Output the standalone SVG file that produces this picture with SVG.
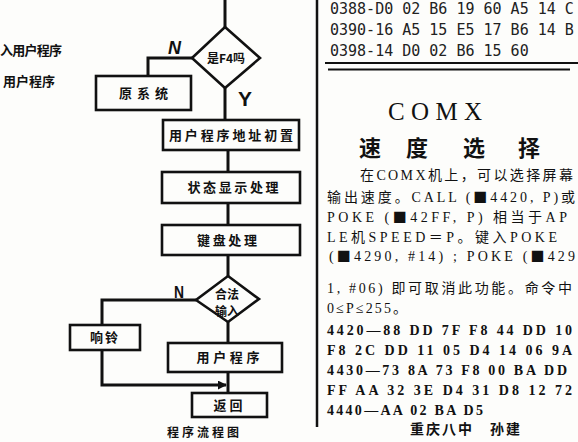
<svg xmlns="http://www.w3.org/2000/svg" width="578" height="442" viewBox="0 0 578 442">
<style>
.bg{fill:#fdfdfb}
.ln{fill:none;stroke:#111;stroke-width:3;stroke-linejoin:miter}
.bx{fill:#fdfdfb;stroke:#111;stroke-width:2.6}
.ft{font-family:"Noto Sans CJK SC","Noto Sans",sans-serif;font-weight:bold;font-size:13px;fill:#111;text-anchor:middle}
.lb{font-family:"Liberation Sans","Noto Sans",sans-serif;font-weight:bold;fill:#111}
.code{font-family:"DejaVu Sans Mono","Liberation Mono",monospace;font-size:15px;fill:#222}
.body{font-family:"Liberation Serif","Noto Sans CJK SC",serif;font-size:14px;fill:#111}
.hex{font-family:"Liberation Serif","Noto Sans CJK SC",serif;font-size:14px;font-weight:bold;fill:#111}
.sq{font-family:"Noto Sans CJK SC",sans-serif;font-size:14px}
.ttl{font-family:"Noto Sans CJK SC",sans-serif;font-size:22px;font-weight:bold;fill:#111;text-anchor:middle}
</style>
<defs>
<marker id="ah" viewBox="0 0 10 10" refX="9" refY="5" markerWidth="3" markerHeight="3" orient="auto"><path d="M0,0 L10,5 L0,10 z" fill="#111"/></marker>
</defs>
<rect class="bg" x="0" y="0" width="578" height="442"/>

<!-- left margin fragments -->
<g id="leftText">
<text class="ft" x="31" y="55" textLength="62">入用户程序</text>
<text class="ft" x="29" y="86" textLength="52">用户程序</text>
</g>

<!-- connectors -->
<g id="connectors">
<path class="ln" d="M225,0 V27"/>
<path class="ln" d="M192,58 H148 V76"/>
<path class="ln" d="M225,88 V120"/>
<path class="ln" d="M228,150 V172"/>
<path class="ln" d="M228,203 V225"/>
<path class="ln" d="M228,255 V276"/>
<path class="ln" d="M196,300 H102 V325"/>
<path class="ln" d="M228,322 V343"/>
<path class="ln" d="M228,372 V393"/>
<path class="ln" d="M102,350 V385 H226" marker-end="url(#ah)"/>
</g>

<g id="n-decide-f4">
<polygon class="bx" points="225,27 260,58 225,88 192,58"/>
<text class="ft" x="226" y="63" style="font-size:12px">是F4吗</text>
</g>
<text class="lb" x="168" y="54" font-size="18" font-style="italic">N</text>
<text class="lb" x="238" y="106" font-size="21" textLength="14" lengthAdjust="spacingAndGlyphs">Y</text>

<g id="n-orig">
<rect class="bx" x="96" y="76" width="95" height="34"/>
<text class="ft" x="146" y="98" letter-spacing="5">原系统</text>
</g>
<g id="n-addr">
<rect class="bx" x="163" y="120" width="136" height="30"/>
<text class="ft" x="231" y="140" textLength="124">用户程序地址初置</text>
</g>
<g id="n-status">
<rect class="bx" x="162" y="172" width="138" height="31"/>
<text class="ft" x="233" y="192" textLength="91">状态显示处理</text>
</g>
<g id="n-key">
<rect class="bx" x="162" y="225" width="138" height="30"/>
<text class="ft" x="227" y="245" textLength="60">键盘处理</text>
</g>
<g id="n-decide-legal">
<polygon class="bx" points="228,276 259,299 228,322 196,300"/>
<text class="ft" x="227" y="299" style="font-size:12px">合法</text>
<text class="ft" x="227" y="316" style="font-size:12px">输入</text>
</g>
<text class="lb" x="174" y="298" font-size="16" textLength="10" lengthAdjust="spacingAndGlyphs">N</text>
<g id="n-bell">
<rect class="bx" x="70" y="325" width="70" height="25"/>
<text class="ft" x="104" y="342" textLength="28">响铃</text>
</g>
<g id="n-user">
<rect class="bx" x="168" y="343" width="114" height="29"/>
<text class="ft" x="228" y="362" textLength="63">用户程序</text>
</g>
<g id="n-return">
<rect class="bx" x="192" y="393" width="75" height="24"/>
<text class="ft" x="228" y="410" textLength="29">返回</text>
</g>
<text class="ft" x="203" y="437" textLength="72" style="font-size:12px">程序流程图</text>

<!-- right column -->
<g id="rightColumn">
<line x1="317" y1="0" x2="317" y2="427" stroke="#111" stroke-width="2.5"/>
<text class="code" x="330" y="14">0388-D0 02 B6 19 60 A5 14 C</text>
<text class="code" x="330" y="35">0390-16 A5 15 E5 17 B6 14 B</text>
<text class="code" x="330" y="56">0398-14 D0 02 B6 15 60</text>
<line x1="325" y1="63" x2="578" y2="63" stroke="#111" stroke-width="2"/>
<line x1="328" y1="69.5" x2="570" y2="69.5" stroke="#111" stroke-width="2"/>
<text x="388" y="120" font-family="Liberation Serif,serif" font-size="25" fill="#111" textLength="94" lengthAdjust="spacing">COMX</text>
<text class="ttl" x="370" y="156">速</text>
<text class="ttl" x="417" y="156">度</text>
<text class="ttl" x="474" y="156">选</text>
<text class="ttl" x="529" y="156">择</text>
<text class="body" x="360" y="180" textLength="213" lengthAdjust="spacing">在COMX机上，可以选择屏幕</text>
<text class="body" x="327" y="202" textLength="248" lengthAdjust="spacing">输出速度。CALL (<tspan class="sq">■</tspan>4420, P)或</text>
<text class="body" x="327" y="222" textLength="240" lengthAdjust="spacing">POKE (<tspan class="sq">■</tspan>42FF, P) 相当于AP</text>
<text class="body" x="327" y="242" textLength="230" lengthAdjust="spacing">LE机SPEED＝P。键入POKE</text>
<text class="body" x="329" y="261" textLength="246" lengthAdjust="spacing">(<tspan class="sq">■</tspan>4290, #14) ; POKE (<tspan class="sq">■</tspan>429</text>
<text class="body" x="327" y="293" textLength="245" lengthAdjust="spacing">1, #06) 即可取消此功能。命令中</text>
<text class="body" x="327" y="313" textLength="80" lengthAdjust="spacing">0≤P≤255。</text>
<text class="hex" x="327" y="335" textLength="245" lengthAdjust="spacing">4420—88 DD 7F F8 44 DD 10</text>
<text class="hex" x="327" y="355" textLength="245" lengthAdjust="spacing">F8 2C DD 11 05 D4 14 06 9A</text>
<text class="hex" x="327" y="375" textLength="240" lengthAdjust="spacing">4430—73 8A 73 F8 00 BA DD</text>
<text class="hex" x="327" y="395" textLength="245" lengthAdjust="spacing">FF AA 32 3E D4 31 D8 12 72</text>
<text class="hex" x="327" y="415" textLength="156" lengthAdjust="spacing">4440—AA 02 BA D5</text>
<text class="body" x="410" y="434" font-size="13" textLength="110" lengthAdjust="spacing" style="font-weight:bold">重庆八中　孙建</text>
</g>
</svg>
